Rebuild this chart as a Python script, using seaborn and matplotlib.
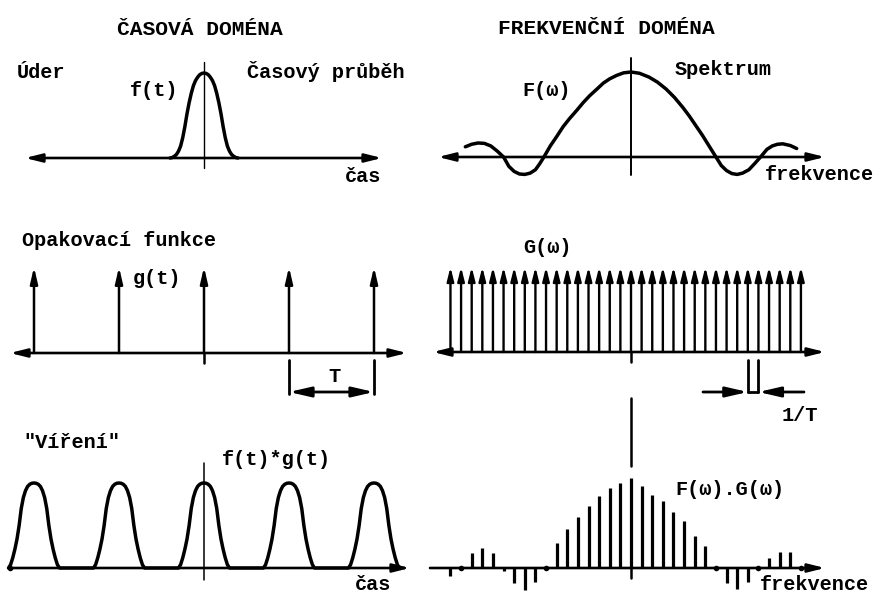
import matplotlib
matplotlib.use("Agg")
import matplotlib.pyplot as plt
import seaborn as sns
import pandas as pd

W, H = 878, 596

# ---------------- data ----------------
# single pulse f(t)  (t in units of the period T, amplitude normalised)
pulse_t = [-0.400, -0.375, -0.350, -0.325, -0.300, -0.275, -0.250, -0.225, -0.200,
           -0.175, -0.150, -0.125, -0.100, -0.075, -0.050, -0.025, 0.000,
           0.025, 0.050, 0.075, 0.100, 0.125, 0.150, 0.175, 0.200,
           0.225, 0.250, 0.275, 0.300, 0.325, 0.350, 0.375, 0.400]
pulse_f = [0.00, 0.005, 0.02, 0.04, 0.08, 0.14, 0.24, 0.37, 0.52,
           0.65, 0.76, 0.85, 0.91, 0.95, 0.98, 0.995, 1.00,
           0.995, 0.98, 0.95, 0.91, 0.85, 0.76, 0.65, 0.52,
           0.37, 0.24, 0.14, 0.08, 0.04, 0.02, 0.005, 0.00]

# repetition function g(t): impulses at multiples of T
impulse_times = [-2, -1, 0, 1, 2]
impulse_height = [1.0, 1.0, 1.0, 1.0, 1.0]

# convolution f(t)*g(t): pulse shape repeated at each impulse
conv_t = [-0.300, -0.275, -0.250, -0.225, -0.200, -0.175, -0.150, -0.125, -0.100,
          -0.075, -0.050, -0.025, 0.000, 0.025, 0.050, 0.075, 0.100, 0.125,
          0.150, 0.175, 0.200, 0.225, 0.250, 0.275, 0.300]
conv_f = [0.00, 0.04, 0.12, 0.22, 0.34, 0.50, 0.70, 0.83, 0.91,
          0.96, 0.985, 0.997, 1.00, 0.997, 0.985, 0.96, 0.91, 0.83,
          0.70, 0.50, 0.34, 0.22, 0.12, 0.04, 0.00]

# spectrum F(w)  (w in units of the line spacing 1/T)
spectrum_w = [-15.6, -15.0, -14.4, -13.8, -13.2, -12.6, -12.0, -11.5, -11.0, -10.5,
              -10.0, -9.5, -9.0, -8.6, -8.2, -7.6, -7.0, -6.4, -5.8, -5.1,
              -4.5, -3.9, -3.2, -2.6, -2.0, -1.35, -0.7, 0.0, 0.8, 1.7,
              2.5, 3.3, 4.1, 4.9, 5.5, 6.1, 6.7, 7.2, 7.6, 8.0,
              8.5, 9.0, 9.5, 10.0, 10.5, 11.1, 11.7, 12.2, 12.8, 13.3,
              13.8, 14.3, 15.0, 15.6]
spectrum_F = [0.12, 0.15, 0.165, 0.16, 0.13, 0.07, 0.00, -0.11, -0.17, -0.20,
              -0.205, -0.19, -0.15, -0.08, 0.00, 0.13, 0.24, 0.355, 0.45, 0.55,
              0.64, 0.72, 0.80, 0.87, 0.92, 0.96, 0.99, 1.00, 0.985, 0.94,
              0.88, 0.80, 0.70, 0.58, 0.48, 0.37, 0.26, 0.16, 0.08, 0.00,
              -0.10, -0.16, -0.195, -0.205, -0.19, -0.15, -0.07, 0.00, 0.09, 0.13,
              0.15, 0.155, 0.135, 0.10]

# comb G(w): lines at k/T
comb_k = list(range(-17, 17))
comb_height = [1.0] * len(comb_k)

# sampled spectrum F(w).G(w)
sampled_k = list(range(-17, 17))
sampled_FG = [-0.09, 0.00, 0.17, 0.22, 0.17, -0.03, -0.17, -0.24, -0.15, 0.00,
              0.28, 0.43, 0.57, 0.69, 0.80, 0.89, 0.95, 1.00, 0.91, 0.81,
              0.74, 0.62, 0.52, 0.36, 0.24, 0.00, -0.17, -0.23, -0.15, 0.00,
              0.11, 0.18, 0.18, 0.00]

# ---------------- figure ----------------
sns.set_theme(style="white")
plt.rcParams["font.family"] = ["Liberation Mono", "DejaVu Sans Mono"]
plt.rcParams["font.weight"] = "bold"

fig = plt.figure(figsize=(W / 100, H / 100), dpi=100)
fig.patch.set_facecolor("white")


def panel(cx, cy, sx, sy):
    """Full-figure transparent axes whose data origin sits at pixel (cx, cy)."""
    ax = fig.add_axes([0, 0, 1, 1], facecolor="none")
    ax.set_xlim((0 - cx) / sx, (W - cx) / sx)
    ax.set_ylim((cy - H) / sy, cy / sy)
    ax.axis("off")
    return ax


def arrow(ax, x0, y0, x1, y1, style="-|>", lw=1.8, ms=10, hl=0.9, hw=0.25):
    ax.annotate("", xy=(x1, y1), xytext=(x0, y0),
                arrowprops=dict(arrowstyle=f"{style},head_length={hl},head_width={hw}",
                                lw=lw, color="black", shrinkA=0, shrinkB=0,
                                mutation_scale=ms))


BLACK = "black"

# --- top left: single pulse
ax_tl = panel(204, 158, 85, 85)
sns.lineplot(x=pulse_t, y=pulse_f, sort=False, estimator=None, color=BLACK,
             linewidth=2.5, ax=ax_tl)

# --- top right: spectrum
ax_tr = panel(631, 157, 10.62, 85)
sns.lineplot(x=spectrum_w, y=spectrum_F, sort=False, estimator=None, color=BLACK,
             linewidth=2.5, ax=ax_tr)

# --- middle left: impulse train g(t)
ax_ml = panel(204, 353, 85, 86)
for t, h in zip(impulse_times, impulse_height):
    arrow(ax_ml, t, 0, t, h, lw=1.8, ms=10, hl=0.95, hw=0.22)

# --- middle right: comb G(w)
ax_mr = panel(631, 352, 10.62, 85)
for k, h in zip(comb_k, comb_height):
    arrow(ax_mr, k, 0, k, h, lw=1.7, ms=10, hl=0.8, hw=0.2)

# --- bottom left: convolution
ax_bl = panel(204, 568, 85, 85)
conv_df = pd.DataFrame({
    "t": [c + t for c in impulse_times for t in conv_t],
    "v": [h * v for h in impulse_height for v in conv_f],
})
sns.lineplot(data=conv_df, x="t", y="v", sort=False, estimator=None, color=BLACK,
             linewidth=2.5, ax=ax_bl)

# --- bottom right: sampled spectrum
ax_br = panel(631, 568, 10.62, 90)
bars = pd.DataFrame({"k": sampled_k, "v": sampled_FG})
nz = bars[bars["v"] != 0]
zz = bars[bars["v"] == 0]
ax_br.vlines(nz["k"], 0, nz["v"], color=BLACK, lw=2.3)
sns.scatterplot(data=zz, x="k", y="v", color=BLACK, s=16, linewidth=0, ax=ax_br)

# ---------------- overlay in pixel coordinates: axes, brackets, text ----------------
ov = fig.add_axes([0, 0, 1, 1], facecolor="none")
ov.set_xlim(0, W)
ov.set_ylim(H, 0)
ov.axis("off")

AX_LW = 1.9
# horizontal axes
arrow(ov, 25, 158, 382, 158, style="<|-|>", lw=AX_LW, ms=10, hl=1.0, hw=0.25)
arrow(ov, 438, 157, 825, 157, style="<|-|>", lw=AX_LW, ms=10, hl=1.0, hw=0.25)
arrow(ov, 10, 353, 407, 353, style="<|-|>", lw=AX_LW, ms=10, hl=1.0, hw=0.25)
arrow(ov, 433, 352, 825, 352, style="<|-|>", lw=AX_LW, ms=10, hl=1.0, hw=0.25)
arrow(ov, 10, 568, 410, 568, style="-|>", lw=AX_LW, ms=10, hl=1.0, hw=0.25)
arrow(ov, 430, 568, 825, 568, style="-|>", lw=AX_LW, ms=10, hl=1.0, hw=0.25)
ov.plot([10], [568], "o", color=BLACK, ms=3)

# vertical centre lines
ov.plot([204, 204], [62, 168], color=BLACK, lw=1.0)
ov.plot([631, 631], [58, 175], color=BLACK, lw=1.4)
ov.plot([204, 204], [353, 363], color=BLACK, lw=1.8)
ov.plot([631, 631], [352, 362], color=BLACK, lw=1.8)
ov.plot([204, 204], [463, 580], color=BLACK, lw=1.1)
ov.plot([631, 631], [398, 466], color=BLACK, lw=1.8)
ov.plot([631, 631], [568, 578], color=BLACK, lw=1.8)

# T bracket (middle left) tied to two impulses
for t in impulse_times[3:5]:
    ax_ml.plot([t, t], [(353 - 360) / 86, (353 - 394) / 86], color=BLACK, lw=2.0)
arrow(ax_ml, impulse_times[3], (353 - 392) / 86, impulse_times[4], (353 - 392) / 86,
      style="<|-|>", lw=2.0, ms=10, hl=1.3, hw=0.3)

# 1/T bracket (middle right) tied to two comb lines
k1, k2 = comb_k[28], comb_k[29]
ybr = (352 - 392) / 85
for k in (k1, k2):
    ax_mr.plot([k, k], [(352 - 360) / 85, ybr], color=BLACK, lw=2.0)
ax_mr.plot([k1, k2], [ybr, ybr], color=BLACK, lw=2.0)
arrow(ax_mr, (703 - 631) / 10.62, ybr, k1, ybr, style="-|>", lw=2.0, ms=10, hl=1.3, hw=0.3)
arrow(ax_mr, (804 - 631) / 10.62, ybr, k2, ybr, style="-|>", lw=2.0, ms=10, hl=1.3, hw=0.3)

# text
FS = 14.6
TFS = 15.3


def txt(x, y, s, size=FS, ha="left"):
    ov.text(x, y, s, fontsize=size, fontweight="bold", ha=ha, va="baseline",
            color=BLACK, family=["Liberation Mono", "DejaVu Sans Mono"])


txt(117, 35, "ČASOVÁ DOMÉNA", TFS)
txt(498, 34, "FREKVENČNÍ DOMÉNA", TFS)
txt(17, 78, "Úder")
txt(130, 96, "f(t)")
txt(247, 78, "Časový průběh")
txt(345, 182, "čas")
txt(522, 96, "F(ω)")
txt(675, 75, "Spektrum")
txt(765, 180, "frekvence")
txt(22, 246, "Opakovací funkce")
txt(133, 284, "g(t)")
txt(334, 382, "T", ha="center")
txt(523, 253, "G(ω)")
txt(782, 421, "1/T")
txt(23, 448, "\"Víření\"")
txt(222, 465, "f(t)*g(t)")
txt(355, 590, "čas")
txt(675, 495, "F(ω).G(ω)")
txt(760, 590, "frekvence")

fig.savefig("out.png", dpi=100, facecolor="white")
